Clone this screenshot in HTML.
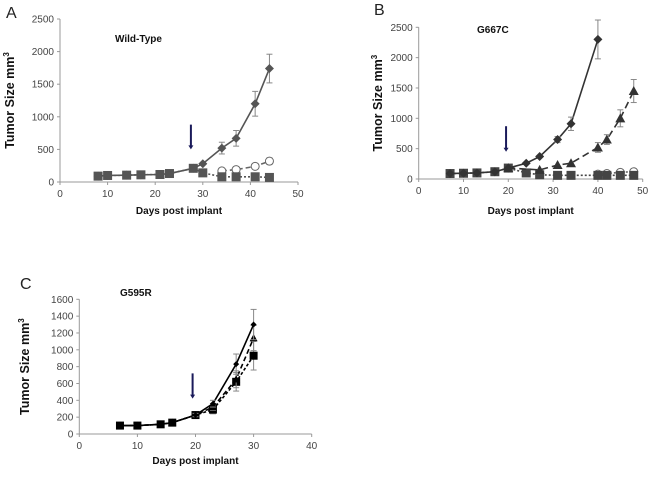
<!DOCTYPE html>
<html><head><meta charset="utf-8"><style>
body{margin:0;background:#fff}
svg{display:block;font-family:"Liberation Sans",Arial,sans-serif}
</style></head><body>
<svg id="s" width="650" height="477" viewBox="0 0 650 477"></svg>
<script>
// Panel A data
const aDays=[8,10,14,17,21,23,28,30,34,37,41,44];
const aDiamond=[90,100,105,110,115,130,210,280,520,670,1200,1740];
const aDiamondErr=[0,0,0,0,0,0,0,0,90,120,190,220];
const aSqDays=[8,10,14,17,21,23,28,30,34,37,41,44];
const aSquare=[90,100,105,110,115,130,210,140,80,80,80,70];
const aCircDays=[34,37,41,44];
const aCircle=[170,190,240,320];
const aCircErr=[20,25,30,50];
const aYTicks=[0,500,1000,1500,2000,2500];
const aXTicks=[0,10,20,30,40,50];
// Panel B data
const bDays=[7,10,13,17,20,24,27,31,34,40];
const bDiamond=[90,95,100,120,180,260,370,650,910,2300];
const bDiamondErr=[0,0,0,0,0,0,0,50,110,320];
const bTriDays=[20,27,31,34,40,42,45,48];
const bTri=[180,150,230,260,520,650,1000,1450];
const bTriErr=[0,0,0,0,80,80,140,190];
const bSqDays=[7,10,13,17,20,24,27,31,34,40,42,45,48];
const bSquare=[90,95,100,120,180,100,70,60,60,60,60,60,60];
const bCircDays=[40,42,45,48];
const bCircle=[80,90,110,120];
const bYTicks=[0,500,1000,1500,2000,2500];
const bXTicks=[0,10,20,30,40,50];
// Panel C data
const cDays=[7,10,14,16,20,23,27,30];
const cDiamond=[100,100,115,135,225,360,830,1300];
const cDiamondErr=[0,0,0,0,20,40,120,180];
const cTri=[100,100,115,135,225,320,650,1140];
const cTriErr=[0,0,0,0,0,40,100,150];
const cSquare=[100,100,115,135,225,290,620,930];
const cSqErr=[0,0,0,0,0,50,110,170];
const cYTicks=[0,200,400,600,800,1000,1200,1400,1600];
const cXTicks=[0,10,20,30,40];

const svg=document.getElementById('s');
const NS='http://www.w3.org/2000/svg';
function mk(tag,attrs,parent,name,text){
  const e=document.createElementNS(NS,tag);
  for(const k in attrs)e.setAttribute(k,attrs[k]);
  
  
  if(text!==undefined)e.textContent=text;
  (parent||svg).appendChild(e);return e;
}
function panel(p){
  const g=mk('g',{},svg,'panel-'+p.id);
  const X=v=>p.x0+(v-p.xmin)/(p.xmax-p.xmin)*(p.x1-p.x0);
  const Y=v=>p.y0-(v/p.ymax)*(p.y0-p.y1);
  mk('line',{x1:p.x0,y1:p.y0,x2:p.x0,y2:p.y1,stroke:'#999','stroke-width':1},g,'y-axis-line');
  mk('line',{x1:p.x0,y1:p.y0,x2:p.x1,y2:p.y0,stroke:'#999','stroke-width':1},g,'x-axis-line');
  p.yt.forEach(t=>{
    mk('line',{x1:p.x0-3,x2:p.x0,y1:Y(t),y2:Y(t),stroke:'#999'},g,'y-tick');
    mk('text',{x:p.x0-6,y:Y(t)+3.5,'font-size':10,'text-anchor':'end',fill:'#444'},g,'y-tick-label',t);
  });
  p.xt.forEach(t=>{
    mk('line',{x1:X(t),x2:X(t),y1:p.y0,y2:p.y0+3,stroke:'#999'},g,'x-tick');
    mk('text',{x:X(t),y:p.y0+15,'font-size':10,'text-anchor':'middle',fill:'#444'},g,'x-tick-label',t);
  });
  mk('text',{x:p.lx,y:p.ly,'font-size':16,fill:'#222'},g,'panel-label',p.id);
  mk('text',{x:p.tx,y:p.ty,'font-size':10,'font-weight':'bold',fill:'#111'},g,'genotype-title',p.title);
  mk('text',{x:(p.x0+p.x1)/2,y:p.xly,'font-size':10,'font-weight':'bold','text-anchor':'middle',fill:'#111'},g,'x-axis-title','Days post implant');
  const yt=mk('text',{transform:`translate(${p.ytx},${(p.y0+p.y1)/2}) rotate(-90)`,'font-size':12.5,'font-weight':'bold','text-anchor':'middle',fill:'#111'},g,'y-axis-title','Tumor Size mm');
  const sup=document.createElementNS(NS,'tspan');sup.setAttribute('dy','-5');sup.setAttribute('font-size','8');sup.textContent='3';
  yt.appendChild(sup);
  // arrow
  const ax=X(p.arrow[0]);
  mk('line',{x1:ax,x2:ax,y1:Y(p.arrow[1]),y2:Y(p.arrow[2])-3,stroke:'#1a1a5a','stroke-width':2},g,'treatment-arrow');
  mk('path',{d:`M${ax-2.5},${Y(p.arrow[2])-4} L${ax+2.5},${Y(p.arrow[2])-4} L${ax},${Y(p.arrow[2])} Z`,fill:'#1a1a5a'},g,'arrow-head');
  p.series.forEach(s=>{
    const sg=mk('g',{},g,'series-'+s.name);
    const pts=s.x.map((d,i)=>X(d)+','+Y(s.y[i])).join(' ');
    mk('polyline',{points:pts,fill:'none',stroke:s.color,'stroke-width':1.6,'stroke-dasharray':s.dash||''},sg,'series-line');
    if(s.err)s.x.forEach((d,i)=>{
      const e=s.err[i];if(!e)return;const x=X(d);
      mk('line',{x1:x,x2:x,y1:Y(s.y[i]+e),y2:Y(s.y[i]-e),stroke:'#888'},sg,'error-bar');
      mk('line',{x1:x-3,x2:x+3,y1:Y(s.y[i]+e),y2:Y(s.y[i]+e),stroke:'#888'},sg,'error-cap');
      mk('line',{x1:x-3,x2:x+3,y1:Y(s.y[i]-e),y2:Y(s.y[i]-e),stroke:'#888'},sg,'error-cap');
    });
    s.x.forEach((d,i)=>{
      const x=X(d),y=Y(s.y[i]),r=s.size;
      if(s.marker==='diamond')mk('path',{d:`M${x},${y-r} L${x+r},${y} L${x},${y+r} L${x-r},${y} Z`,fill:s.color},sg,'point-diamond');
      else if(s.marker==='square')mk('rect',{x:x-r,y:y-r,width:2*r,height:2*r,fill:s.color},sg,'point-square');
      else if(s.marker==='triangle')mk('path',{d:`M${x},${y-r} L${x+r},${y+r*0.8} L${x-r},${y+r*0.8} Z`,fill:s.color},sg,'point-triangle');
      else mk('circle',{cx:x,cy:y,r:r,fill:'#fff',stroke:'#666','stroke-width':1},sg,'point-circle');
    });
  });
}
panel({id:'A',title:'Wild-Type',x0:60,x1:298,xmin:0,xmax:50,y0:182,y1:19,ymax:2500,yt:aYTicks,xt:aXTicks,
 lx:6,ly:18,tx:115,ty:42,xly:214,ytx:14,arrow:[27.5,880,500],
 series:[
  {name:'circle',x:aCircDays,y:aCircle,err:aCircErr,color:'#666',dash:'5,3',marker:'circle',size:4},
  {name:'square',x:aSqDays,y:aSquare,color:'#555',dash:'2,2',marker:'square',size:4.5},
  {name:'diamond',x:aDays,y:aDiamond,err:aDiamondErr,color:'#555',marker:'diamond',size:4.5}]});
panel({id:'B',title:'G667C',x0:418.7,x1:642.7,xmin:0,xmax:50,y0:179,y1:27.3,ymax:2500,yt:bYTicks,xt:bXTicks,
 lx:374,ly:15,tx:477,ty:33,xly:214,ytx:382,arrow:[19.5,870,450],
 series:[
  {name:'circle',x:bCircDays,y:bCircle,color:'#666',dash:'2,2',marker:'circle',size:4},
  {name:'square',x:bSqDays,y:bSquare,color:'#444',dash:'2,2',marker:'square',size:4.5},
  {name:'triangle',x:bTriDays,y:bTri,err:bTriErr,color:'#333',dash:'7,4',marker:'triangle',size:5},
  {name:'diamond',x:bDays,y:bDiamond,err:bDiamondErr,color:'#333',marker:'diamond',size:4.5}]});
panel({id:'C',title:'G595R',x0:79.3,x1:311.7,xmin:0,xmax:40,y0:434,y1:299.3,ymax:1600,yt:cYTicks,xt:cXTicks,
 lx:20,ly:289,tx:120,ty:296,xly:464,ytx:29,arrow:[19.5,720,420],
 series:[
  {name:'square',x:cDays,y:cSquare,err:cSqErr,color:'#000',dash:'3,2',marker:'square',size:4},
  {name:'triangle',x:cDays,y:cTri,err:cTriErr,color:'#000',dash:'5,3',marker:'triangle',size:4},
  {name:'diamond',x:cDays,y:cDiamond,err:cDiamondErr,color:'#000',marker:'diamond',size:3}]});
</script>
</body></html>
